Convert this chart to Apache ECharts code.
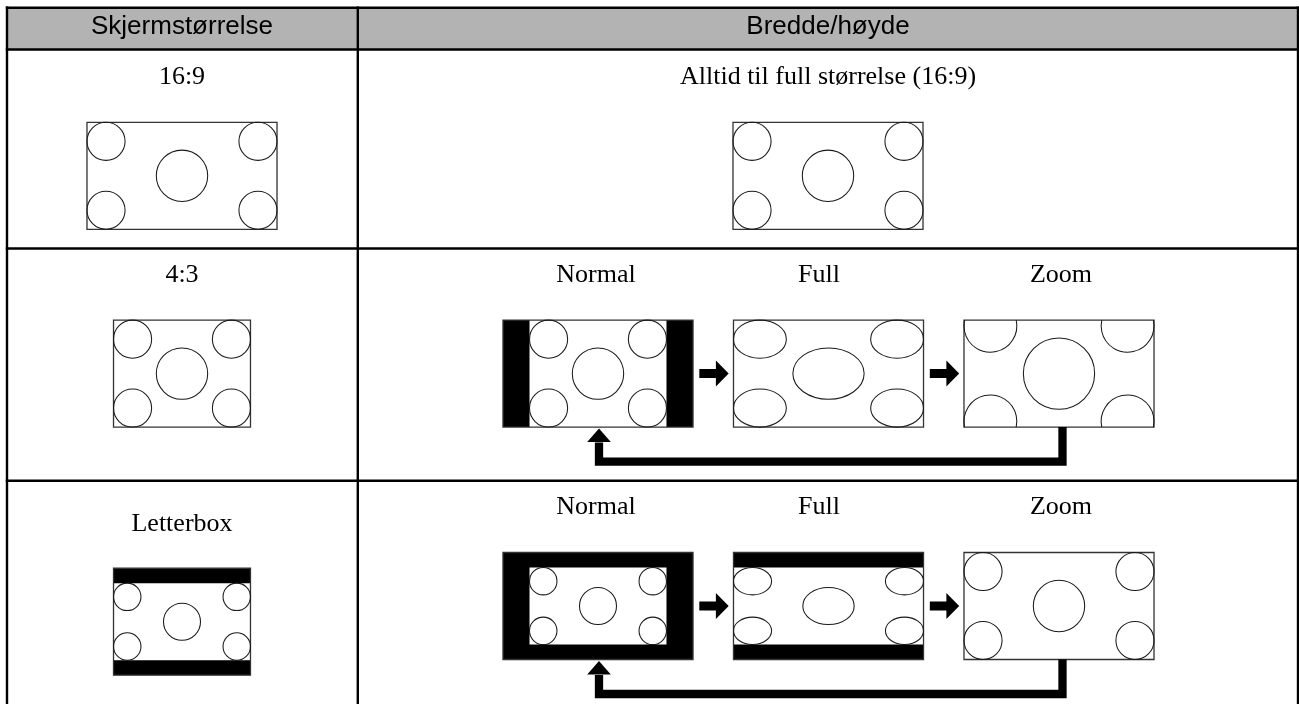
<!DOCTYPE html>
<html>
<head>
<meta charset="utf-8">
<script src="https://cdn.jsdelivr.net/npm/echarts@6/dist/echarts.min.js"></script>
<style>html,body{margin:0;padding:0;background:#fff;}#c{width:1299px;height:704px;}</style>
</head>
<body>
<div id="c"></div>
<script>
// ================= DATA =================
const headerLabels = ['Skjermstørrelse', 'Bredde/høyde'];
const formatLabels = ['16:9', '4:3', 'Letterbox'];
const modeLabels = ['Normal', 'Full', 'Zoom'];
const fixedModeLabel = 'Alltid til full størrelse (16:9)';
// picture shapes (width / height) as drawn
const aspectNames = ['16:9', '4:3'];
const aspectValues = [1.776, 1.28];
// per row: aspect of the incoming signal and of the picture it carries
const rowSignalAspect = ['16:9', '4:3', '4:3'];
const rowContentAspect = ['16:9', '4:3', '16:9'];
// how each display mode places a 4:3 signal on the 16:9 screen
const modeFit = ['pillarbox', 'stretch', 'crop'];
// test pattern circle radii, relative to picture height: [corner, centre]
const patternRadii = [0.178, 0.24];

// ================= LAYOUT =================
const W = 1299, H = 704;
const L = {
  tableLeft: 7, tableRight: 1298, tableTop: 7.7, headerBottom: 49.5,
  rowLines: [248.5, 480.7], colDiv: 357.8, tableBottom: 704,
  col1X: 182, col2X: 828,
  headerY: 26.4,
  rowLabelY: [77.2, 275.5, 523.9],
  modeLabelY: [null, 275.5, 507.2],
  modeLabelX: [596, 819, 1061],
  srcPicY: [175.8, 373.6, 621.7],
  picY: [175.8, 373.6, 606],
  modePicX: [598, 828.5, 1059],
  picH: 107,
  lineW: 2.4
};

function aspectOf(n) { return aspectValues[aspectNames.indexOf(n)]; }

// pictures
const pictures = [];
formatLabels.forEach((f, r) => {
  pictures.push({ x: L.col1X, y: L.srcPicY[r], frame: rowSignalAspect[r], fit: 'native',
                  signal: rowSignalAspect[r], content: rowContentAspect[r] });
});
pictures.push({ x: L.col2X, y: L.picY[0], frame: '16:9', fit: 'native', signal: '16:9', content: '16:9' });
[1, 2].forEach(r => modeLabels.forEach((m, i) => {
  pictures.push({ x: L.modePicX[i], y: L.picY[r], frame: '16:9', fit: modeFit[i],
                  signal: rowSignalAspect[r], content: rowContentAspect[r], row: r, mode: i });
}));

// labels
const labels = [];
headerLabels.forEach((t, i) => labels.push({ x: i === 0 ? L.col1X : L.col2X, y: L.headerY, text: t, sans: true }));
formatLabels.forEach((t, r) => labels.push({ x: L.col1X, y: L.rowLabelY[r], text: t }));
labels.push({ x: L.col2X, y: L.rowLabelY[0], text: fixedModeLabel });
[1, 2].forEach(r => modeLabels.forEach((t, i) => labels.push({ x: L.modeLabelX[i], y: L.modeLabelY[r], text: t })));

// arrows (mode cycle per row with selectable modes)
const cycleRows = [1, 2];

const chart = echarts.init(document.getElementById('c'));

function mk(api) {
  const P = (x, y) => api.coord([x, y]);
  const rect = (x0, y0, x1, y1, style) => {
    const a = P(x0, y0), b = P(x1, y1);
    return { type: 'rect', shape: { x: Math.min(a[0], b[0]), y: Math.min(a[1], b[1]), width: Math.abs(b[0] - a[0]), height: Math.abs(b[1] - a[1]) }, style: style };
  };
  const line = (x0, y0, x1, y1, style) => {
    const a = P(x0, y0), b = P(x1, y1);
    return { type: 'line', shape: { x1: a[0], y1: a[1], x2: b[0], y2: b[1] }, style: style };
  };
  return { P, rect, line };
}

function renderTable(params, api) {
  const { rect, line } = mk(api);
  const st = { stroke: '#000', lineWidth: L.lineW };
  const ch = [];
  ch.push(rect(L.tableLeft, L.tableTop, L.tableRight, L.headerBottom, { fill: '#b3b3b3' }));
  [L.tableTop, L.headerBottom].concat(L.rowLines).forEach(y => ch.push(line(L.tableLeft - 1.2, y, L.tableRight + 1.2, y, st)));
  [L.tableLeft, L.colDiv, L.tableRight].forEach(x => ch.push(line(x, L.tableTop - 1.2, x, L.tableBottom, st)));
  return { type: 'group', children: ch };
}

function renderLabel(params, api) {
  const d = labels[params.dataIndex];
  const p = api.coord([d.x, d.y]);
  return {
    type: 'text', x: p[0], y: p[1],
    style: {
      text: d.text, fill: '#000', align: 'center', verticalAlign: 'middle',
      font: d.sans ? '26px "Liberation Sans", Arial, sans-serif' : '26px "Liberation Serif", "Times New Roman", serif'
    }
  };
}

function circleEl(api, cx, cy, rx, ry, top, bottom) {
  const p = api.coord([cx, cy]);
  const sx = api.size([rx, 0])[0], sy = api.size([ry, 0])[0];
  const style = { stroke: '#1a1a1a', lineWidth: 1.05, fill: null };
  if (Math.abs(rx - ry) > 0.01) {
    return { type: 'ellipse', shape: { cx: p[0], cy: p[1], rx: sx, ry: sy }, style: style };
  }
  if (cy - ry < top - 0.01) {
    const a = Math.asin((top - cy) / ry);
    return { type: 'arc', shape: { cx: p[0], cy: p[1], r: sx, startAngle: a, endAngle: Math.PI - a, clockwise: true }, style: style };
  }
  if (cy + ry > bottom + 0.01) {
    const a = Math.asin((bottom - cy) / ry);
    return { type: 'arc', shape: { cx: p[0], cy: p[1], r: sx, startAngle: Math.PI - a, endAngle: 2 * Math.PI + a, clockwise: true }, style: style };
  }
  return { type: 'circle', shape: { cx: p[0], cy: p[1], r: sx }, style: style };
}

function renderPicture(params, api) {
  const pic = pictures[params.dataIndex];
  const { rect } = mk(api);
  const fh = L.picH, fw = fh * aspectOf(pic.frame);
  const as = aspectOf(pic.signal), ac = aspectOf(pic.content);
  let sw, sh;
  if (pic.fit === 'native' || pic.fit === 'stretch') { sw = fw; sh = fh; }
  else if (pic.fit === 'pillarbox') { sh = fh; sw = fh * as; }
  else { sw = fw; sh = fw / as; }
  const cw = sw, chh = sh * as / ac;
  const fx0 = pic.x - fw / 2, fy0 = pic.y - fh / 2, fx1 = fx0 + fw, fy1 = fy0 + fh;
  const cx0 = pic.x - cw / 2, cy0 = pic.y - chh / 2;
  const vy0 = Math.max(cy0, fy0), vy1 = Math.min(cy0 + chh, fy1);
  const ch = [];
  ch.push(rect(fx0, fy0, fx1, fy1, { fill: '#000' }));
  ch.push(rect(cx0, vy0, cx0 + cw, vy1, { fill: '#fff' }));
  ch.push(rect(fx0, fy0, fx1, fy1, { fill: null, stroke: '#333', lineWidth: 1.3 }));
  // test pattern
  const ux = cw / ac, uy = chh;
  const rc = patternRadii[0], rm = patternRadii[1];
  const pts = [[rc, rc, rc], [ac - rc, rc, rc], [rc, 1 - rc, rc], [ac - rc, 1 - rc, rc], [ac / 2, 0.5, rm]];
  pts.forEach(c => {
    ch.push(circleEl(api, cx0 + c[0] * ux, cy0 + c[1] * uy, c[2] * ux, c[2] * uy, fy0, fy1));
  });
  return { type: 'group', children: ch };
}

function renderArrows(params, api) {
  const r = cycleRows[params.dataIndex];
  const P = (x, y) => api.coord([x, y]);
  const fh = L.picH, fw = fh * aspectOf('16:9');
  const y = L.picY[r];
  const ch = [];
  // forward arrows between consecutive modes
  for (let i = 0; i < modeLabels.length - 1; i++) {
    const x0 = L.modePicX[i] + fw / 2 + 6.3, x1 = L.modePicX[i + 1] - fw / 2 - 4.8;
    const hx = x1 - 12.8;
    const pts = [[x0, y - 4.5], [hx, y - 4.5], [hx, y - 13], [x1, y], [hx, y + 13], [hx, y + 4.5], [x0, y + 4.5]].map(p => P(p[0], p[1]));
    ch.push({ type: 'polygon', shape: { points: pts }, style: { fill: '#000' } });
  }
  // return arrow from last mode back to first
  const bottom = y + fh / 2;
  const xr = L.modePicX[2] + 3.5, xl = L.modePicX[0] + 1, yb = bottom + 34.5;
  const headBase = bottom + 15, tip = bottom + 1.5;
  ch.push({ type: 'polyline', shape: { points: [P(xr, bottom), P(xr, yb), P(xl, yb), P(xl, headBase + 0.5)] },
            style: { stroke: '#000', lineWidth: 8.3, fill: null, lineJoin: 'miter', lineCap: 'butt' } });
  ch.push({ type: 'polygon', shape: { points: [P(xl - 11.8, headBase), P(xl, tip), P(xl + 11.8, headBase)] }, style: { fill: '#000' } });
  return { type: 'group', children: ch };
}

const option = {
  backgroundColor: '#fff',
  animation: false,
  grid: { left: 0, right: 0, top: 0, bottom: 0 },
  xAxis: { type: 'value', min: 0, max: W, show: false },
  yAxis: { type: 'value', min: 0, max: H, inverse: true, show: false },
  series: [
    { type: 'custom', name: 'table', clip: false, z: 1, data: [[0, 0]], renderItem: renderTable },
    { type: 'custom', name: 'pictures', clip: false, z: 2, data: pictures.map(p => [p.x, p.y]), renderItem: renderPicture },
    { type: 'custom', name: 'arrows', clip: false, z: 2, data: cycleRows.map(r => [0, L.picY[r]]), renderItem: renderArrows },
    { type: 'custom', name: 'labels', clip: false, z: 3, data: labels.map(d => [d.x, d.y]), renderItem: renderLabel }
  ]
};
chart.setOption(option);
</script>
</body>
</html>
